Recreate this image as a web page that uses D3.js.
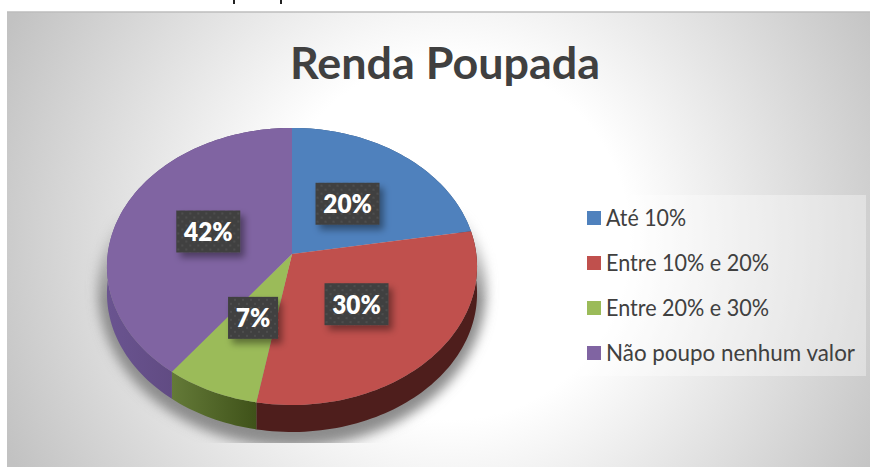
<!DOCTYPE html>
<html><head><meta charset="utf-8">
<script src="https://cdn.jsdelivr.net/npm/d3@7/dist/d3.min.js"></script>
<style>html,body{margin:0;padding:0;background:#fff}svg{display:block}</style>
</head><body><svg id="c" width="870" height="467"></svg>
<script>
const categories = ["Até 10%", "Entre 10% e 20%", "Entre 20% e 30%", "Não poupo nenhum valor"];
const values = [20, 30, 7, 42];
const labels = ["20%", "30%", "7%", "42%"];
const colors = ["#4f81bd", "#c0504d", "#9bbb59", "#8064a2"];
const chartTitle = "Renda Poupada";
const legendWidths = [80, 163, 163, 249];

const FONT = "Lato, 'Open Sans', sans-serif";
const svg = d3.select("#c");
const defs = svg.append("defs");

// Background
const bg = defs.append("radialGradient").attr("id", "bg")
  .attr("gradientUnits", "userSpaceOnUse").attr("cx", 450).attr("cy", 240).attr("r", 490);
[[0, "#ffffff"], [0.367, "#ffffff"], [1, "#c2c2c2"]].forEach(([o, c]) =>
  bg.append("stop").attr("offset", o).attr("stop-color", c));
svg.append("rect").attr("x", 7).attr("y", 12).attr("width", 863).attr("height", 455).attr("fill", "url(#bg)");
svg.append("line").attr("x1", 7).attr("x2", 870).attr("y1", 12).attr("y2", 12).attr("stroke", "#bdbdbd").attr("stroke-width", 1.5);

// Descender stubs of the line of text cropped above the chart
[233, 280].forEach(x => svg.append("rect").attr("x", x).attr("y", 0).attr("width", 2).attr("height", 4).attr("fill", "#222"));

// Title
svg.append("text").attr("x", 445).attr("y", 79).attr("text-anchor", "middle")
  .attr("font-family", FONT).attr("font-weight", 700).attr("font-size", 44).attr("fill", "#404040")
  .attr("textLength", 310).attr("lengthAdjust", "spacingAndGlyphs").text(chartTitle);

// Perspective projection of the unit pie, calibrated to the reference's 3-D view
const DEG = Math.PI / 180;
const apex = {x: 292, y: 254}, A = 184.3, B = 137.4, K = 0.09, DEPTH = 27;
const rimWarp = t => t + DEG * (8.2 * Math.sqrt(Math.abs(Math.sin(t / 2))) + 2.3 * Math.sin(2 * t));
const labelWarp = t => t + DEG * 10 * Math.abs(Math.sin(t / 2));
function project(t, f, dy = 0) {
  const u = f * Math.sin(t), v = -f * Math.cos(t), d = 1 - K * v;
  return [apex.x + A * u / d, apex.y + B * v / d + dy];
}
const arcs = d3.pie().sort(null).value(d => d)(values);
const line = d3.line();
const arcPts = (a, dy = 0) => {
  const n = Math.max(8, Math.ceil((a.endAngle - a.startAngle) * 40));
  return d3.range(n + 1).map(i => project(rimWarp(a.startAngle + (a.endAngle - a.startAngle) * i / n), 1, dy));
};

// Soft shadow beneath the pie, cut off flat at its bottom
const blur = defs.append("filter").attr("id", "soft").attr("x", "-20%").attr("y", "-20%").attr("width", "140%").attr("height", "140%");
blur.append("feGaussianBlur").attr("stdDeviation", 6);
const fade = defs.append("linearGradient").attr("id", "fade").attr("x1", 0).attr("x2", 0).attr("y1", 0).attr("y2", 1);
[[0, 0], [0.4, 1], [1, 1]].forEach(([o, a]) => fade.append("stop").attr("offset", o).attr("stop-color", "#fff").attr("stop-opacity", a));
const mask = defs.append("mask").attr("id", "shMask").attr("maskUnits", "userSpaceOnUse")
  .attr("x", 80).attr("y", 205).attr("width", 425).attr("height", 238);
mask.append("rect").attr("x", 80).attr("y", 205).attr("width", 425).attr("height", 238).attr("fill", "url(#fade)");
svg.append("g").attr("mask", "url(#shMask)").append("ellipse")
  .attr("cx", apex.x).attr("cy", 290).attr("rx", 194).attr("ry", 157)
  .attr("fill", "#8c8c8c").attr("filter", "url(#soft)");

// Side walls
const wallStops = [["#2f4f78", "#2f4f78"], ["#4e1e1c", "#4e1e1c"], ["#647a38", "#3f5219"], ["#6a5490", "#503b6b"]];
arcs.forEach((a, i) => {
  const top = arcPts(a), bot = arcPts(a, DEPTH);
  const xs = top.map(p => p[0]);
  const lg = defs.append("linearGradient").attr("id", "w" + i).attr("gradientUnits", "userSpaceOnUse")
    .attr("x1", d3.min(xs)).attr("x2", d3.max(xs)).attr("y1", 0).attr("y2", 0);
  const [left, right] = wallStops[i];
  lg.append("stop").attr("offset", 0).attr("stop-color", left);
  lg.append("stop").attr("offset", 1).attr("stop-color", right);
  svg.append("path").attr("d", line(top.concat(bot.reverse())) + "Z").attr("fill", `url(#w${i})`);
});

// Top faces
svg.selectAll("path.slice").data(arcs).enter().append("path").attr("class", "slice")
  .attr("d", a => line([[apex.x, apex.y]].concat(arcPts(a))) + "Z")
  .attr("fill", (a, i) => colors[i]);

// Data labels
const dots = defs.append("pattern").attr("id", "dots").attr("patternUnits", "userSpaceOnUse").attr("width", 8).attr("height", 8);
dots.append("rect").attr("width", 8).attr("height", 8).attr("fill", "#404040");
dots.append("circle").attr("cx", 2).attr("cy", 2).attr("r", 1).attr("fill", "#525252");
dots.append("circle").attr("cx", 6).attr("cy", 6).attr("r", 1).attr("fill", "#525252");
const ds = defs.append("filter").attr("id", "ds").attr("x", "-30%").attr("y", "-30%").attr("width", "170%").attr("height", "170%");
ds.append("feDropShadow").attr("dx", 4).attr("dy", 5).attr("stdDeviation", 3.5).attr("flood-color", "#000").attr("flood-opacity", 0.4);

const LABEL_F = 0.49, H = 42;
const lab = svg.selectAll("g.lab").data(arcs).enter().append("g").attr("class", "lab")
  .attr("transform", a => "translate(" + project(labelWarp((a.startAngle + a.endAngle) / 2), LABEL_F) + ")");
lab.append("rect")
  .attr("x", (a, i) => labels[i].length > 2 ? -32 : -25)
  .attr("width", (a, i) => labels[i].length > 2 ? 64 : 50)
  .attr("y", -H / 2).attr("height", H)
  .attr("fill", "url(#dots)").attr("filter", "url(#ds)");
lab.append("text").attr("text-anchor", "middle").attr("y", 9.5)
  .attr("font-family", FONT).attr("font-weight", 800).attr("font-size", 27).attr("fill", "#fff")
  .text((a, i) => labels[i])
  .attr("lengthAdjust", "spacingAndGlyphs")
  .attr("textLength", function () { return this.getComputedTextLength() * 0.9; });

// Legend
svg.append("rect").attr("x", 574).attr("y", 195).attr("width", 292).attr("height", 181)
  .attr("fill", "#fff").attr("fill-opacity", 0.35);
const ly = d3.scalePoint().domain(categories).range([218, 353]);
const leg = svg.selectAll("g.leg").data(categories).enter().append("g").attr("class", "leg")
  .attr("transform", d => `translate(587,${ly(d)})`);
leg.append("rect").attr("y", -7).attr("width", 14).attr("height", 14).attr("fill", (d, i) => colors[i]);
leg.append("text").attr("x", 19).attr("y", 7.5).attr("font-family", FONT).attr("font-size", 22.5).attr("fill", "#404040")
  .attr("textLength", (d, i) => legendWidths[i]).attr("lengthAdjust", "spacingAndGlyphs")
  .text(d => d);
</script></body></html>
